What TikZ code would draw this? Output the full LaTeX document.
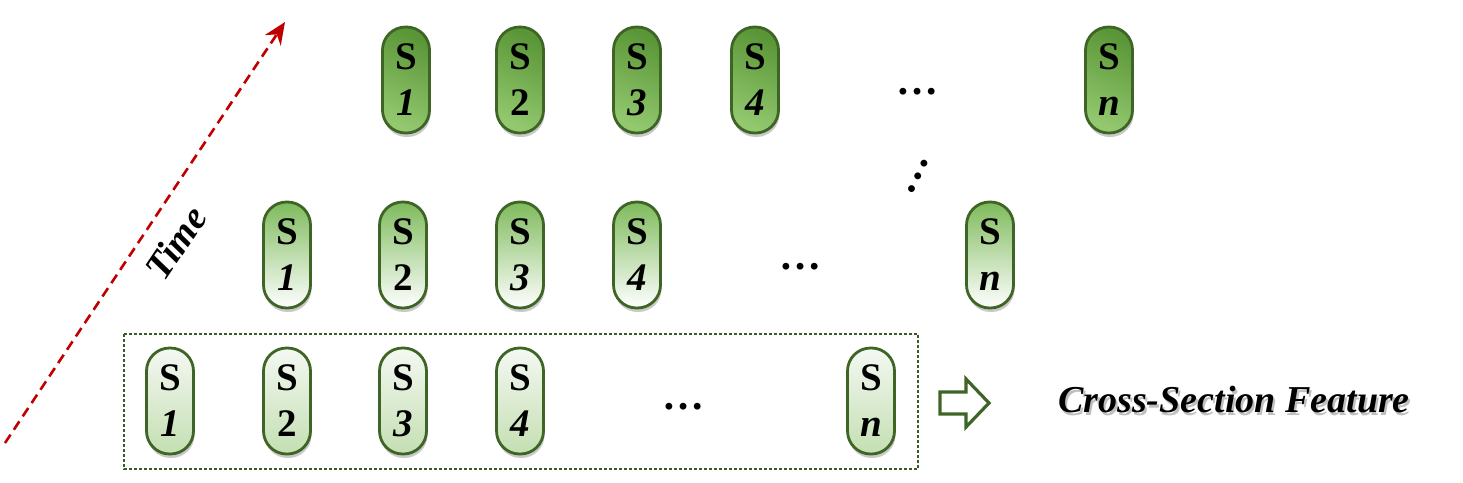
\documentclass[tikz,border=0pt]{standalone}
\usepackage{fontspec}
\setmainfont{Liberation Serif}
\usetikzlibrary{shadows,arrows.meta}
\definecolor{capedge}{HTML}{3E6526}
\definecolor{boxedge}{HTML}{3B5A2A}
\definecolor{timered}{HTML}{C00000}
\definecolor{darkg}{HTML}{5A9637}
\definecolor{lightg}{HTML}{93C86F}
\definecolor{midg}{HTML}{7EBA5C}
\definecolor{paleg}{HTML}{F4F8F2}
\definecolor{softg}{HTML}{C4DFB2}
\tikzset{
  sbox/.style={draw=capedge, line width=2.8pt, rounded corners=23pt,
    minimum width=47pt, minimum height=106pt, inner sep=0pt, align=center,
    font=\fontsize{39}{46}\selectfont\bfseries,
    drop shadow={shadow xshift=1pt, shadow yshift=-4pt, opacity=.3, fill=black!70}},
  sold/.style={sbox, top color=darkg, bottom color=lightg, shading angle=-25},
  smid/.style={sbox, top color=midg, middle color=midg!12, bottom color=white},
  snew/.style={sbox, top color=paleg, bottom color=softg},
  dotsnode/.style={inner sep=0pt, font=\fontsize{42}{42}\selectfont\bfseries},
}
\begin{document}
\begin{tikzpicture}[x=1pt, y=-1pt]
\useasboundingbox (0,0) rectangle (1463,482);
% time axis
\coordinate (tstart) at (5,443);
\coordinate (tend) at (285,22);
\draw[timered, line width=2.6pt, dash pattern=on 10pt off 6pt, -{Stealth[length=22pt,width=19pt]}] (tstart) -- (tend);
\node[rotate=56, font=\fontsize{38}{38}\selectfont\bfseries\itshape] (time) at (176,243) {Time};

% oldest row
\node[sold] (a1) at (406,80) {S\\\textit{1}};
\node[sold] (a2) at (520,80) {S\\2};
\node[sold] (a3) at (637,80) {S\\\textit{3}};
\node[sold] (a4) at (755,80) {S\\\textit{4}};
\node[dotsnode] (adots) at (917,92) {…};
\node[sold] (an) at (1109,80) {S\\\textit{n}};

\node[dotsnode, rotate=64] (vdots) at (918,176) {…};

% middle row
\node[smid] (b1) at (287,255) {S\\\textit{1}};
\node[smid] (b2) at (403,255) {S\\2};
\node[smid] (b3) at (520,255) {S\\\textit{3}};
\node[smid] (b4) at (637,255) {S\\\textit{4}};
\node[dotsnode] (bdots) at (800,267) {…};
\node[smid] (bn) at (990,255) {S\\\textit{n}};

% current row
\draw[boxedge, line width=2.6pt, dash pattern=on 3pt off 2pt] (124,334) rectangle (918,469);
\node[snew] (c1) at (170,401) {S\\\textit{1}};
\node[snew] (c2) at (287,401) {S\\2};
\node[snew] (c3) at (403,401) {S\\\textit{3}};
\node[snew] (c4) at (520,401) {S\\\textit{4}};
\node[dotsnode] (cdots) at (683,407) {…};
\node[snew] (cn) at (871,401) {S\\\textit{n}};

\draw[capedge, line width=3.2pt, fill=white] (940,392) -- (966,392) -- (966,379) -- (989,403) -- (966,427) -- (966,414) -- (940,414) -- cycle;
\node[font=\fontsize{38}{38}\selectfont\bfseries\itshape, text=black!25] at (1236,403) {Cross-Section Feature};
\node[font=\fontsize{38}{38}\selectfont\bfseries\itshape] (feat) at (1234,400) {Cross-Section Feature};
\end{tikzpicture}
\end{document}
